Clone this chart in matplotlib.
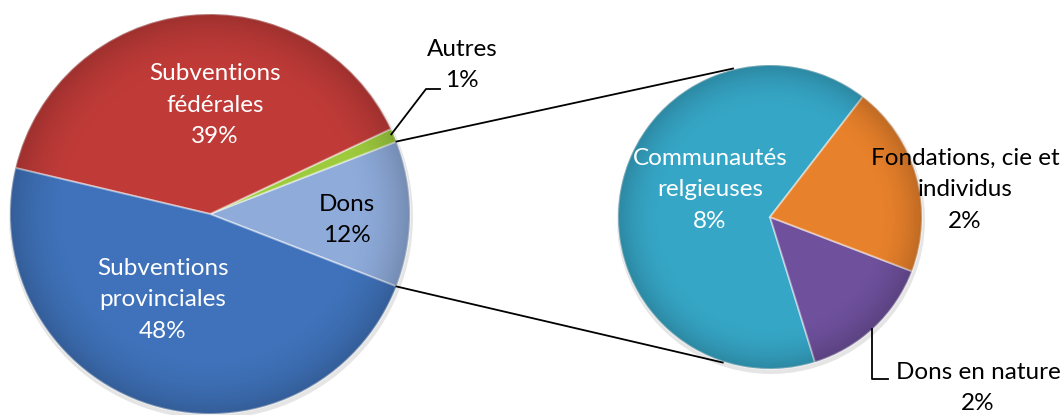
import numpy as np
import matplotlib
matplotlib.use("Agg")
import matplotlib.pyplot as plt
from matplotlib.patches import Circle

plt.rcParams['font.family'] = ['Lato', 'DejaVu Sans']

# ---- data ----
main_labels = ["Dons", "Autres", "Subventions\nfédérales", "Subventions\nprovinciales"]
main_values = [11.8, 1.1, 39.3, 47.8]
main_colors = ["#8EABDA", "#9ECB3E", "#C03B38", "#3F72BA"]
main_text_colors = ["black", "black", "white", "white"]

sub_labels = ["Communautés\nrelgieuses", "Dons en nature", "Fondations, cie et\nindividus"]
sub_values = [7.7, 1.7, 2.4]
sub_colors = ["#36A6C6", "#6E509C", "#E8812B"]
sub_text_colors = ["white", "black", "black"]

W, H = 1063, 415
fig = plt.figure(figsize=(W / 100, H / 100), dpi=100)
ax = fig.add_axes([0, 0, 1, 1])

main_center = (210, 201)
main_r = 200
sub_center = (770, 198)
sub_r = 152

main_start = -360 * main_values[0] / 100 / 2
sub_start = 52.3

def shade(center, r):
    n = 400
    xs = np.linspace(-1, 1, n)
    X, Y = np.meshgrid(xs, xs)
    R = np.sqrt(X ** 2 + Y ** 2)
    alpha = np.clip((R - 0.7) / 0.3, 0, 1) ** 2 * 0.18
    img = np.zeros((n, n, 4))
    img[..., 3] = alpha
    im = ax.imshow(img, extent=(center[0] - r, center[0] + r, center[1] - r, center[1] + r),
                   origin="lower", zorder=3, interpolation="bilinear")
    im.set_clip_path(Circle(center, r, transform=ax.transData))

# shadows
for c, r in [(main_center, main_r), (sub_center, sub_r)]:
    ax.add_patch(Circle((c[0] + 1, c[1] - 3), r + 2, color="#000000", alpha=0.10, lw=0, zorder=1))

wedges, _ = ax.pie(main_values, colors=main_colors, startangle=main_start, counterclock=True,
                   center=main_center, radius=main_r, frame=True,
                   wedgeprops=dict(edgecolor=(1, 1, 1, 0.45), linewidth=1.4))
for w in wedges:
    w.set_zorder(2)
swedges, _ = ax.pie([v / sum(sub_values) for v in sub_values], colors=sub_colors,
                    startangle=sub_start, counterclock=True, normalize=False,
                    center=sub_center, radius=sub_r, frame=True,
                    wedgeprops=dict(edgecolor=(1, 1, 1, 0.45), linewidth=1.4))
for w in swedges:
    w.set_zorder(2)
shade(main_center, main_r)
shade(sub_center, sub_r)

ax.set_xlim(0, W)
ax.set_ylim(0, H)
ax.set_aspect("equal")
ax.axis("off")

def pt(center, r, ang):
    a = np.deg2rad(ang)
    return center[0] + r * np.cos(a), center[1] + r * np.sin(a)

# connector lines between the Dons wedge and the secondary pie
d = wedges[0]
p_top = pt(main_center, main_r, d.theta2)
p_bot = pt(main_center, main_r, d.theta1)
q_top = pt(sub_center, sub_r + 1, 104)
q_bot = pt(sub_center, sub_r + 1, 252)
ax.plot([p_top[0], q_top[0]], [p_top[1], q_top[1]], color="black", lw=1.3, zorder=4)
ax.plot([p_bot[0], q_bot[0]], [p_bot[1], q_bot[1]], color="black", lw=1.3, zorder=4)

fs = 17.5
ls = 1.62
def pct(v):
    return f"{round(v)}%"

# main labels
main_pos = [(347, 195), (462, 350), (215, 310), (163, 115)]
for lab, v, col, pos in zip(main_labels, main_values, main_text_colors, main_pos):
    ax.text(pos[0], pos[1], f"{lab}\n{pct(v)}", ha="center", va="center", color=col,
            fontsize=fs, linespacing=ls, zorder=5)

# Autres leader line
a = wedges[1]
pa = pt(main_center, main_r - 2, (a.theta1 + a.theta2) / 2 + 0.5)
ax.plot([pa[0], 426, 440], [pa[1], 326, 326], color="black", lw=1.3, zorder=4)

# secondary labels
sub_pos = [(710, 225), (978, 27), (965, 225)]
for lab, v, col, pos in zip(sub_labels, sub_values, sub_text_colors, sub_pos):
    ax.text(pos[0], pos[1], f"{lab}\n{pct(v)}", ha="center", va="center", color=col,
            fontsize=fs, linespacing=ls, zorder=5)

# Dons en nature leader line
pb = pt(sub_center, sub_r, -47.6)
ax.plot([pb[0], pb[0], 888], [pb[1], 36, 36], color="black", lw=1.3, zorder=4)

fig.savefig("out.png", dpi=100)
